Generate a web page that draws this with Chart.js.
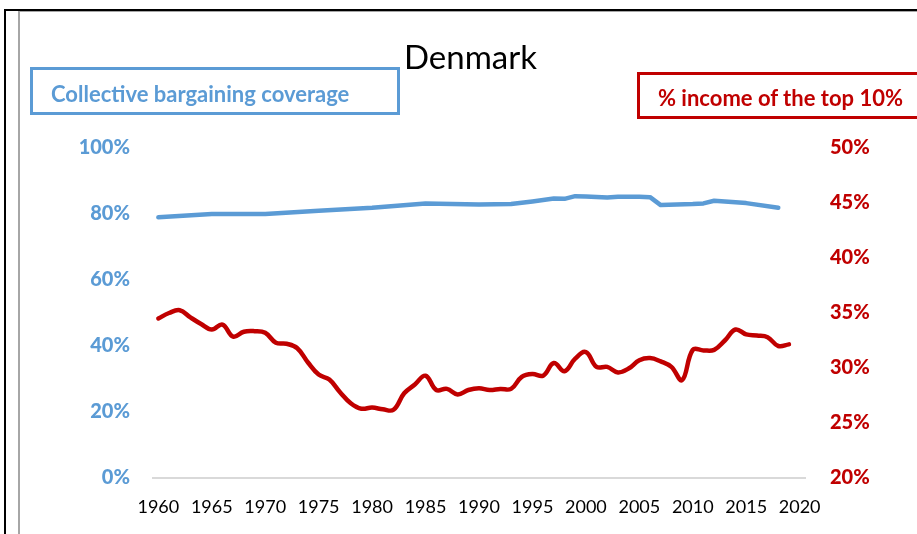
<!DOCTYPE html>
<html>
<head>
<meta charset="utf-8">
<script src="https://cdn.jsdelivr.net/npm/chart.js@4.4.1/dist/chart.umd.min.js"></script>
<style>
  html, body { margin: 0; padding: 0; background: #fff; }
  body { width: 917px; height: 534px; position: relative; overflow: hidden; font-family: Lato, "Open Sans", sans-serif; }
  #wrap { position: absolute; left: 0; top: 0; width: 917px; height: 534px; }
  .line { position: absolute; }
  .title { position: absolute; left: 404px; top: 36px; font-size: 33px; line-height: 40px; color: #000; white-space: nowrap; }
  .legend { position: absolute; box-sizing: border-box; font-weight: bold; font-size: 22px; line-height: 26px; white-space: nowrap; }
  #legBlue { left: 30px; top: 67px; width: 370px; height: 48px; border: 3px solid #5b9bd5; color: #5b9bd5; padding: 11px 0 0 18px; }
  #legRed { left: 637px; top: 72px; width: 300px; height: 47px; border: 3px solid #c00000; color: #c00000; padding: 10px 0 0 18px; }
</style>
</head>
<body>
<div id="wrap"><canvas id="chart" width="917" height="534"></canvas></div>
<div class="line" style="left:4px;top:9px;width:2px;height:525px;background:#000"></div>
<div class="line" style="left:4px;top:9px;width:913px;height:2px;background:#000"></div>
<div class="line" style="left:18px;top:11px;width:2px;height:523px;background:#a6a6a6"></div>
<div class="line" style="left:18px;top:11px;width:899px;height:1px;background:#a6a6a6"></div>
<div class="title">Denmark</div>
<div class="legend" id="legBlue">Collective bargaining coverage</div>
<div class="legend" id="legRed">% income of the top 10%</div>
<script>
// annees de l'axe
const years = [];
for (let y = 1960; y <= 2020; y++) years.push(y);

// couverture des conventions collectives (%)
const coverageYears  = [1960, 1965, 1970, 1975, 1980, 1985, 1990, 1993, 1995, 1997, 1998, 1999, 2000, 2002, 2003, 2005, 2006, 2007, 2010, 2011, 2012, 2015, 2018];
const coverageValues = [79.0, 80.0, 80.0, 81.0, 81.9, 83.2, 82.9, 83.0, 83.8, 84.7, 84.6, 85.4, 85.3, 85.0, 85.2, 85.2, 85.1, 82.7, 83.0, 83.2, 84.0, 83.3, 81.9];

// part du revenu des 10% les plus riches (%), 1960-2019
const top10Values = [
  34.5, 35.0, 35.25, 34.6, 34.0, 33.5, 33.95, 32.85, 33.3, 33.35,
  33.2, 32.3, 32.2, 31.8, 30.5, 29.4, 28.95, 27.8, 26.8, 26.3,
  26.4, 26.25, 26.2, 27.7, 28.5, 29.3, 28.0, 28.1, 27.6, 28.0,
  28.15, 28.0, 28.1, 28.1, 29.2, 29.45, 29.3, 30.45, 29.7, 30.85,
  31.45, 30.1, 30.1, 29.6, 29.95, 30.7, 30.9, 30.6, 30.1, 28.9,
  31.65, 31.6, 31.65, 32.5, 33.5, 33.05, 32.95, 32.8, 32.0, 32.15
];

const leftTicks = [0, 20, 40, 60, 80, 100];
const rightTicks = [20, 25, 30, 35, 40, 45, 50];

const BLUE = '#5b9bd5';
const RED = '#c00000';

const coverageData = years.map(y => {
  const i = coverageYears.indexOf(y);
  return i >= 0 ? coverageValues[i] : null;
});
const top10Data = years.map((y, i) => (i < top10Values.length ? top10Values[i] : null));

new Chart(document.getElementById('chart').getContext('2d'), {
  type: 'line',
  data: {
    labels: years,
    datasets: [
      {
        label: 'Collective bargaining coverage',
        data: coverageData,
        yAxisID: 'yL',
        borderColor: BLUE,
        borderWidth: 4.5,
        pointRadius: 0,
        tension: 0,
        spanGaps: true,
        borderCapStyle: 'round',
        borderJoinStyle: 'round'
      },
      {
        label: '% income of the top 10%',
        data: top10Data,
        yAxisID: 'yR',
        borderColor: RED,
        borderWidth: 4.5,
        pointRadius: 0,
        tension: 0.4,
        borderCapStyle: 'round',
        borderJoinStyle: 'round'
      }
    ]
  },
  options: {
    responsive: false,
    animation: false,
    events: [],
    layout: { padding: { top: 148, left: 0, right: 0, bottom: 0 } },
    plugins: { legend: { display: false }, tooltip: { enabled: false } },
    scales: {
      x: {
        type: 'category',
        offset: true,
        grid: { display: false, drawTicks: false },
        border: { display: true, color: '#d9d9d9', width: 2 },
        ticks: {
          autoSkip: false,
          maxRotation: 0,
          padding: 18,
          color: '#000',
          font: { family: 'Lato', size: 18 },
          callback: function (v, i) { const y = years[i]; return y % 5 === 0 ? String(y) : ''; }
        },
        afterFit: s => { s.height = 56; }
      },
      yL: {
        position: 'left',
        min: 0, max: 100,
        afterBuildTicks: s => { s.ticks = leftTicks.map(v => ({ value: v })); },
        grid: { display: false, drawTicks: false },
        border: { display: false },
        ticks: {
          padding: 23,
          color: BLUE,
          font: { family: 'Lato', size: 20, weight: '900' },
          callback: v => v + '%'
        },
        afterFit: s => { s.width = 153; }
      },
      yR: {
        position: 'right',
        min: 20, max: 50,
        afterBuildTicks: s => { s.ticks = rightTicks.map(v => ({ value: v })); },
        grid: { display: false, drawTicks: false },
        border: { display: false },
        ticks: {
          padding: 25,
          color: RED,
          font: { family: 'Lato', size: 20, weight: '900' },
          callback: v => v + '%'
        },
        afterFit: s => { s.width = 112; }
      }
    }
  }
});
</script>
</body>
</html>
